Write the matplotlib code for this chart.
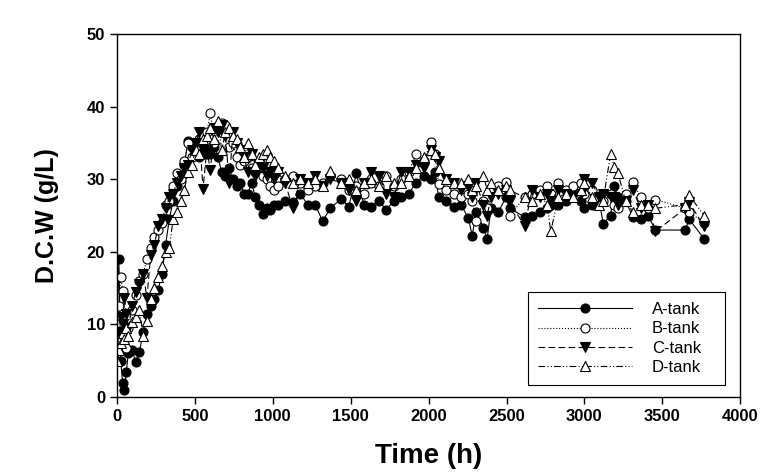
import numpy as np
import matplotlib
matplotlib.use("Agg")
import matplotlib.pyplot as plt

##WWww=--  data section: --=wwWW##
time_h = [
    0, 12, 24, 36, 48, 60, 72, 96, 120, 144, 168, 192, 216, 240, 264, 288,
    312, 336, 360, 384, 408, 432, 456, 480, 504, 528, 552, 576, 600, 624,
    648, 672, 696, 720, 744, 768, 792, 816, 840, 864, 888, 912, 936, 960,
    984, 1008,
    1032, 1080, 1128, 1176, 1224, 1272, 1320, 1368, 1440, 1488, 1536, 1584,
    1632, 1680, 1728, 1776, 1824, 1872, 1920, 1968, 2016, 2040, 2064, 2112,
    2160, 2208, 2256, 2280, 2304, 2352, 2376, 2400, 2448, 2496,
    2520, 2616, 2664, 2712, 2760, 2784, 2832, 2880, 2928, 2976, 3000, 3048,
    3096, 3120, 3168, 3192, 3216, 3264, 3312, 3360, 3408, 3456, 3648, 3672,
    3768,
]

a_tank = [
    9.0, 19.0, 5.0, 2.0, 0.9, 3.5, 6.0, 6.5, 4.8, 6.2, 9.0, 11.5, 12.5, 13.5, 14.7, 17.0,
    21.0, 24.5, 27.0, 29.0, 30.5, 32.0, 35.2, 34.5, 35.0, 33.0, 34.0, 33.5, 33.5, 34.5,
    33.0, 31.0, 30.5, 31.5, 30.0, 29.0, 29.5, 28.0, 28.0, 29.5, 27.5, 26.5, 25.2, 26.0,
    25.8, 26.5,
    26.5, 27.0, 26.8, 28.0, 26.5, 26.5, 24.2, 26.0, 27.3, 26.2, 30.8, 26.5,
    26.2, 27.0, 25.8, 27.0, 27.5, 28.0, 29.5, 30.5, 30.0, 31.0, 27.6, 27.0,
    26.2, 26.5, 24.6, 22.2, 25.5, 23.3, 21.8, 26.0, 25.5, 27.5,
    26.0, 24.8, 25.0, 25.5, 26.0, 26.5, 26.5, 27.0, 28.5, 27.0, 26.0, 26.5,
    27.0, 23.9, 25.0, 29.0, 27.5, 27.0, 24.8, 24.5, 25.0, 23.0, 23.0, 24.5,
    21.8,
]

b_tank = [
    8.0, 12.6, 16.5, 14.6, 9.0, 6.7, 9.5, 12.0, 14.0, 16.0, 17.0, 19.0, 20.5, 22.0, 23.0, 24.0,
    26.5, 27.0, 29.0, 30.8, 30.0, 32.5, 35.0, 33.0, 34.0, 35.5, 36.0, 36.5, 39.1, 35.0,
    37.0, 37.8, 37.5, 34.5, 35.0, 33.0, 32.0, 32.5, 33.0, 31.5, 31.0, 32.0, 30.5, 30.0,
    29.0, 28.5,
    29.0, 30.0, 30.5, 29.5, 28.5, 29.0, 29.5, 30.5, 30.0, 28.5, 29.0, 28.0,
    29.5, 29.0, 30.5, 29.0, 30.0, 31.0, 33.5, 32.5, 35.1, 33.5, 29.3, 28.5,
    28.0, 27.5, 28.0, 27.0, 24.2, 27.0, 26.0, 28.5, 29.0, 29.6,
    25.0, 27.5, 28.0, 28.5, 29.0, 28.0, 29.5, 28.5, 29.0, 29.5, 28.0, 28.5,
    27.5, 27.0, 28.0, 26.5, 26.0, 28.0, 29.6, 27.5, 26.0, 27.2, 26.0, 25.5,
    24.0,
]

c_tank = [
    6.0, 9.0, 11.0, 10.0, 13.6, 11.5, 9.5, 12.5, 14.5, 15.5, 17.0, 13.7, 19.5, 21.0, 23.5, 24.5,
    26.0, 27.5, 28.0, 29.5, 30.5, 31.5, 32.0, 34.0, 35.0, 36.5, 28.7, 34.0, 31.3, 37.0,
    36.5, 37.5, 36.0, 29.5, 36.5, 35.0, 34.0, 33.0, 31.0, 33.5, 30.5, 32.0, 31.5, 30.5,
    31.0, 30.0,
    31.0, 29.5, 26.0, 30.0, 29.5, 30.5, 29.0, 30.0, 29.5, 28.5, 27.0, 29.5,
    31.0, 30.5, 28.0, 27.5, 31.0, 31.0, 32.0, 31.5, 34.0, 33.0, 32.5, 30.0,
    29.5, 28.5, 29.0, 27.5, 29.5, 26.5, 25.0, 27.5, 28.0, 28.5,
    27.0, 23.5, 28.5, 27.5, 28.0, 27.0, 28.5, 28.0, 27.5, 28.0, 30.0, 29.5,
    27.5, 28.0, 27.5, 27.5, 26.5, 27.0, 28.5, 26.0, 26.5, 22.8, 26.0, 26.8,
    23.5,
]

d_tank = [
    5.0, 6.5, 7.5, 8.8, 8.0, 9.5, 8.4, 10.4, 11.0, 12.0, 8.4, 10.5, 13.5, 15.0, 16.5, 18.0,
    20.0, 20.5, 24.5, 25.5, 27.0, 28.5, 31.0, 32.0, 34.0, 33.5, 35.5, 36.0, 37.0, 35.5,
    38.0, 34.0, 36.5, 37.0, 36.0, 35.5, 34.5, 33.0, 35.0, 33.5, 32.0, 33.0, 33.5, 34.0,
    33.0, 32.5,
    31.5, 30.5, 29.5, 30.0, 29.5, 30.0, 29.0, 31.2, 29.5, 30.0, 28.5, 29.5,
    30.0, 29.0, 30.5, 29.5, 29.5, 30.5, 31.5, 33.0, 34.0, 33.5, 31.5, 30.0,
    29.5, 29.5, 30.0, 28.5, 29.0, 30.5, 28.5, 29.5, 28.5, 29.0,
    28.5, 27.5, 27.0, 28.0, 26.5, 22.8, 27.5, 28.0, 27.5, 28.5, 29.5, 27.5,
    26.5, 27.0, 33.5, 31.7, 30.8, 27.0, 25.5, 26.5, 26.5, 26.0, 26.5, 27.8,
    25.0,
]

series = [
    ("A-tank", a_tank, "-",                        "o", "black"),
    ("B-tank", b_tank, ":",                        "o", "white"),
    ("C-tank", c_tank, (0, (6, 3)),                "v", "black"),
    ("D-tank", d_tank, (0, (6, 2, 1, 2, 1, 2)),    "^", "white"),
]

##WWww=--  figure: --=wwWW##
plt.rcParams['font.family'] = ['Liberation Sans', 'DejaVu Sans']
plt.rcParams['font.weight'] = 'bold'

fig = plt.figure(figsize=(7.8, 4.74), dpi=100)
ax = fig.add_axes([0.15, 0.1624, 0.799, 0.7658])

for name, vals, ls, mk, fc in series:
    ax.plot(time_h, vals, linestyle=ls, color="black", linewidth=0.8,
            marker=mk, markersize=6.5, markerfacecolor=fc,
            markeredgecolor="black", markeredgewidth=0.8, label=name)

ax.set_xlim(0, 4000)
ax.set_ylim(0, 50)
ax.set_xticks(np.arange(0, 4001, 500))
ax.set_yticks(np.arange(0, 51, 10))
ax.tick_params(direction="out", length=5, width=1, labelsize=12)
for lbl in ax.get_xticklabels() + ax.get_yticklabels():
    lbl.set_fontweight("bold")
for sp in ax.spines.values():
    sp.set_linewidth(1.0)

ax.set_xlabel("Time (h)", fontsize=20, fontweight="bold", labelpad=14)
ax.set_ylabel("D.C.W (g/L)", fontsize=18, fontweight="bold", labelpad=20)

#---- legend box stretched to the reference width
leg = ax.legend(loc="lower left", bbox_to_anchor=(0.66, 0.033, 0.315, 0.25),
                mode="expand", borderaxespad=0.0,
                fontsize=12, handlelength=5.6, handletextpad=1.2,
                labelspacing=0.26, borderpad=0.6, fancybox=False,
                framealpha=1, edgecolor="black")
leg.get_frame().set_linewidth(0.8)
for t in leg.get_texts():
    t.set_fontweight("normal")

fig.savefig("out.png", dpi=100)
